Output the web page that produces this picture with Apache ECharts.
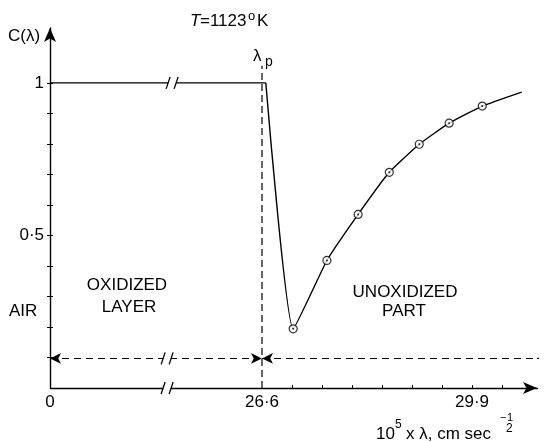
<!DOCTYPE html>
<html><head><meta charset="utf-8">
<script src="https://cdn.jsdelivr.net/npm/echarts@6/dist/echarts.min.js"></script>
<style>html,body{margin:0;padding:0;background:#fff}#c{width:545px;height:442px}</style>
</head><body><div id="c"></div>
<script>
// ---- data ----
const layerLambda = [0, 26.66];
const layerC = [1, 1];
const curveLambda = [26.66, 27.09, 27.62, 28.11, 28.60, 29.07, 29.54, 30.06, 30.68];
const curveC = [1.0, 0.194, 0.418, 0.569, 0.707, 0.799, 0.868, 0.924, 0.970];
const measuredLambda = [27.09, 27.62, 28.11, 28.60, 29.07, 29.54, 30.06];
const measuredC = [0.194, 0.418, 0.569, 0.707, 0.799, 0.868, 0.924];
const lambdaP = 26.6;
const lambdaPTop = 1.056;
const boundaryC = 0.097;
const boundaryEnd = 31.05;
const yTickValues = [0.1, 0.2, 0.3, 0.4, 0.5, 0.6, 0.7, 0.8, 0.9, 1.0];
const yLabelValues = [0.5, 1];
const xLabelValues = [0, 26.6, 29.9];
const xTickValues = [27.07, 27.54, 28.02, 28.49, 28.96, 29.43, 29.90, 30.37];
const xBreak = { start: 1.8, end: 25.15, gap: 0.08 };
const xMax = 30.92, yMax = 1.18;

const FONT = '"Liberation Sans", Arial, sans-serif';
const zip = (a, b) => a.map((v, i) => [v, b[i]]);
const fmt = v => (v === 1 ? '1' : String(v).replace('.', '\u00b7'));

const chart = echarts.init(document.getElementById('c'), null, { renderer: 'canvas' });

const dashed = { color: '#000', width: 1.2, type: [7, 5] };
const option = {
  animation: false,
  backgroundColor: '#fff',
  grid: { left: 50, right: 8, top: 28, bottom: 54 },
  xAxis: {
    type: 'value', min: 0, max: xMax,
    breaks: [xBreak],
    breakArea: { show: false },
    axisLine: { lineStyle: { color: '#000', width: 1.4 }, symbol: ['none', 'arrow'], symbolSize: [9, 14] },
    axisTick: { show: true, inside: true, length: 3, customValues: xTickValues, lineStyle: { color: '#000', width: 1 } },
    axisLabel: { customValues: xLabelValues, formatter: fmt, margin: 6, color: '#000', fontFamily: FONT, fontSize: 17 },
    splitLine: { show: false }
  },
  yAxis: [{
    type: 'value', min: 0, max: yMax,
    axisLine: { show: true, lineStyle: { color: '#000', width: 1.4 }, symbol: ['none', 'arrow'], symbolSize: [9, 14] },
    axisTick: { show: true, length: 3, customValues: yTickValues, lineStyle: { color: '#000', width: 1 } },
    axisLabel: { customValues: yLabelValues, formatter: fmt, margin: 6, color: '#000', fontFamily: FONT, fontSize: 17 },
    splitLine: { show: false }
  }, {
    type: 'value', min: 0, max: yMax, position: 'left',
    axisLine: { show: false },
    axisTick: { show: true, inside: true, length: 3, customValues: yTickValues, lineStyle: { color: '#000', width: 1 } },
    axisLabel: { show: false },
    splitLine: { show: false }
  }],
  series: [
    { type: 'line', data: zip(layerLambda, layerC), symbol: 'none', lineStyle: { color: '#000', width: 1.4 }, silent: true },
    { type: 'line', data: zip(curveLambda, curveC), symbol: 'none', smooth: 0.15, lineStyle: { color: '#000', width: 1.4 }, silent: true },
    { type: 'scatter', data: zip(measuredLambda, measuredC), symbol: 'circle', symbolSize: 8, z: 5,
      itemStyle: { color: '#fff', borderColor: '#000', borderWidth: 1.2 }, silent: true },
    { type: 'scatter', data: zip(measuredLambda, measuredC), symbol: 'circle', symbolSize: 2, z: 6,
      itemStyle: { color: '#000' }, silent: true },
    { type: 'line', data: [[lambdaP, 0], [lambdaP, lambdaPTop]], symbol: 'none', clip: false,
      lineStyle: { color: '#000', width: 1.2, type: [7, 4] }, silent: true,
      markLine: {
        silent: true, symbolSize: [8, 11], label: { show: false },
        lineStyle: dashed,
        data: [
          [{ coord: [0, boundaryC], symbol: 'arrow' }, { coord: [lambdaP, boundaryC], symbol: 'arrow' }],
          [{ coord: [lambdaP, boundaryC], symbol: 'arrow' }, { coord: [xMax, boundaryC], symbol: 'none' }]
        ]
      }
    },
    { type: 'line', data: [[xMax, boundaryC], [boundaryEnd, boundaryC]], symbol: 'none', clip: false,
      lineStyle: dashed, silent: true }
  ]
};
chart.setOption(option);

const toPx = (x, y) => chart.convertToPixel({ xAxisIndex: 0, yAxisIndex: 0 }, [x, y]);
const txt = (text, x, y, opts) => Object.assign({
  type: 'text', silent: true, z: 20,
  style: Object.assign({ text, x, y, fill: '#000', font: '17px ' + FONT, textAlign: 'left', textVerticalAlign: 'middle' }, opts || {})
});

const g = [];
g.push(txt('C(\u03bb)', 8, 36));
g.push(txt('T', 190, 21, { font: 'italic 17px ' + FONT }));
g.push(txt('=1123', 200, 21));
g.push(txt('o', 248, 16, { font: '13px ' + FONT }));
g.push(txt('K', 257, 21));
g.push(txt('\u03bb', 253, 56));
g.push(txt('p', 265, 62, { font: '14px ' + FONT }));
g.push(txt('AIR', 9, 311));
g.push(txt('OXIDIZED', 127, 285, { textAlign: 'center' }));
g.push(txt('LAYER', 129, 307, { textAlign: 'center' }));
g.push(txt('UNOXIDIZED', 405, 292, { textAlign: 'center' }));
g.push(txt('PART', 404, 311, { textAlign: 'center' }));
g.push(txt('10', 376, 434));
g.push(txt('5', 395, 425, { font: '12px ' + FONT }));
g.push(txt('x \u03bb, cm sec', 406, 434));
g.push(txt('\u2212', 500, 418, { font: '11px ' + FONT }));
g.push(txt('1', 507, 418, { font: '11px ' + FONT }));
g.push(txt('2', 506, 429, { font: '12px ' + FONT }));

// break marks "//" drawn at the axis break
const bx = (toPx(xBreak.start, 0)[0] + toPx(xBreak.end, 0)[0]) / 2;
[[0, 0], [boundaryC, 0], [1, 5]].forEach(([val, dx]) => {
  const y = toPx(0, val)[1];
  const cx = bx + dx;
  g.push({ type: 'rect', silent: true, z: 15, shape: { x: cx - 4, y: y - 3, width: 8, height: 6 }, style: { fill: '#fff' } });
  [-4, 4].forEach(o => {
    g.push({ type: 'line', silent: true, z: 16, shape: { x1: cx + o - 2, y1: y + 6, x2: cx + o + 2, y2: y - 6 }, style: { stroke: '#000', lineWidth: 1.3 } });
  });
});
chart.setOption({ graphic: g });
</script></body></html>
